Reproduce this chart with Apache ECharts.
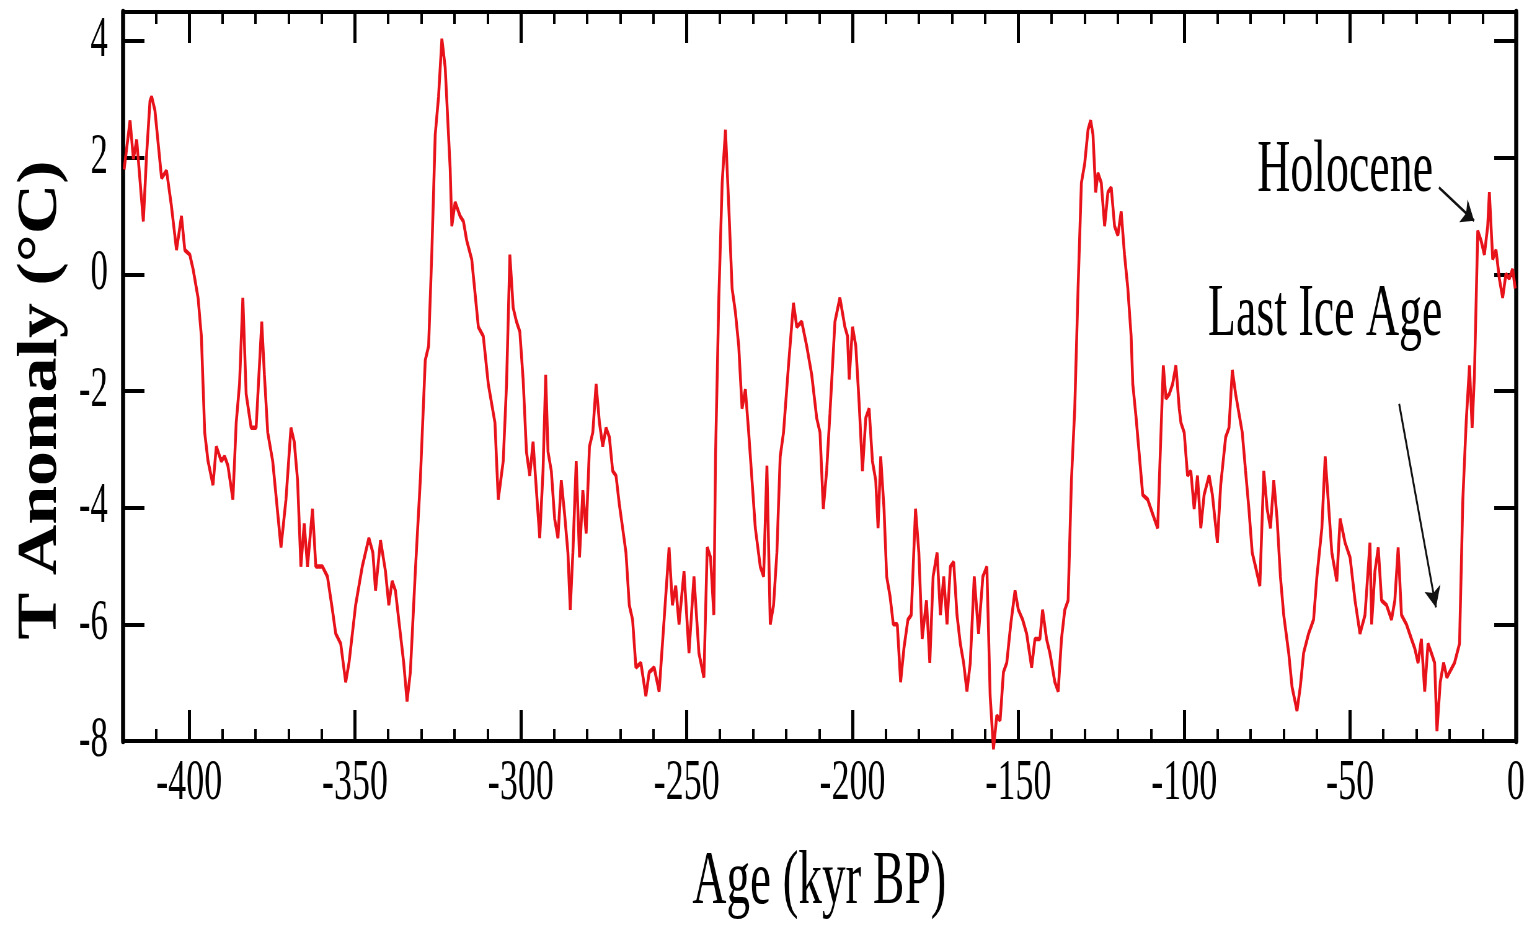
<!DOCTYPE html>
<html>
<head>
<meta charset="utf-8">
<title>T Anomaly</title>
<script src="https://cdn.jsdelivr.net/npm/echarts@6/dist/echarts.min.js"></script>
<style>
    html, body { margin: 0; padding: 0; overflow: hidden; background: #fff; }
    /* the original figure is squeezed sideways, so the chart is drawn wide and narrowed */
    #chart { width: 2469px; height: 926px; transform: scaleX(0.62); transform-origin: 0 0; }
</style>
</head>
<body>
<div id="chart"></div>
<script type="text/javascript">
// age in kyr BP (negative = before present)
var ages = [
    -419.6, -417.8, -416.8, -415.8, -413.8, -412.8, -411.8, -411.3, -410.3, -408.3,
    -406.8, -405.3, -403.8, -402.3, -401.3, -399.8, -398.8, -397.3, -396.3, -395.8,
    -395.3, -394.3, -392.8, -391.8, -390.3, -389.3, -388.3, -386.8, -385.8, -384.8,
    -383.8, -382.8, -381.3, -379.8, -378.1, -377.3, -376.3, -374.8, -372.3, -370.8,
    -369.3, -368.3, -367.3, -366.3, -365.3, -364.3, -362.8, -361.8, -359.8, -358.3,
    -356.8, -355.8, -354.3, -352.8, -351.8, -349.8, -347.8, -345.8, -344.6, -343.8,
    -342.3, -340.8, -339.8, -338.8, -337.8, -336.8, -335.3, -334.3, -333.3, -331.8,
    -330.3, -328.8, -327.8, -326.8, -325.8, -324.8, -323.8, -322.8, -321.3, -320.8,
    -319.8, -318.3, -317.3, -316.3, -314.8, -312.8, -311.3, -309.8, -307.8, -306.8,
    -305.3, -304.3, -303.3, -302.3, -301.3, -300.3, -299.3, -298.3, -297.3, -296.3,
    -295.3, -294.3, -293.3, -292.5, -291.8, -290.8, -289.8, -288.8, -287.8, -286.8,
    -285.8, -285.1, -284.3, -283.3, -282.3, -281.3, -280.3, -279.3, -278.3, -277.3,
    -276.3, -275.3, -274.3, -273.3, -272.3, -271.3, -270.3, -269.3, -268.3, -267.3,
    -266.3, -265.3, -263.8, -262.3, -261.3, -259.8, -258.3, -256.8, -255.3, -254.3,
    -253.3, -252.3, -250.8, -249.3, -247.8, -246.3, -244.8, -243.8, -242.8, -241.8,
    -241.3, -240.3, -239.3, -238.3, -237.3, -236.3, -235.3, -234.3, -233.3, -232.3,
    -231.3, -230.3, -229.3, -227.8, -226.8, -225.8, -224.8, -223.8, -222.8, -221.8,
    -220.8, -219.3, -217.8, -216.8, -215.3, -213.8, -212.3, -210.8, -209.8, -208.8,
    -207.8, -206.8, -205.3, -203.8, -202.3, -201.5, -201.0, -200.0, -199.0, -198.0,
    -197.0, -196.0, -195.0, -194.0, -193.0, -192.3, -191.5, -190.5, -189.7, -188.7,
    -187.7, -186.5, -185.5, -184.5, -183.3, -182.3, -181.0, -180.0, -179.0, -177.7,
    -176.7, -175.7, -174.5, -173.5, -172.5, -171.5, -170.5, -169.5, -168.5, -167.5,
    -166.5, -165.5, -164.5, -163.3, -162.0, -160.7, -159.5, -158.5, -157.5, -156.5,
    -155.5, -154.5, -153.5, -152.3, -151.0, -150.0, -148.7, -147.5, -146.0, -145.0,
    -143.5, -142.7, -141.5, -140.5, -139.0, -138.0, -137.0, -136.0, -135.0, -134.0,
    -133.0, -132.0, -131.0, -130.0, -129.0, -128.2, -127.5, -126.7, -126.0, -125.0,
    -124.0, -123.0, -122.0, -121.0, -120.0, -119.0, -118.0, -117.0, -116.0, -115.5,
    -114.5, -113.5, -112.5, -111.0, -109.5, -108.0, -107.0, -106.3, -105.5, -104.5,
    -103.5, -102.5, -101.5, -101.0, -100.0, -99.0, -98.0, -97.0, -96.0, -95.0,
    -94.0, -92.5, -91.5, -90.0, -89.0, -87.5, -86.5, -85.5, -84.5, -83.5,
    -82.5, -81.5, -80.5, -79.5, -78.5, -77.2, -76.0, -75.0, -74.0, -73.0,
    -72.0, -71.0, -70.0, -68.5, -67.5, -66.0, -65.0, -64.0, -62.5, -61.0,
    -60.0, -58.5, -57.5, -56.5, -55.5, -54.0, -53.0, -51.5, -50.0, -48.5,
    -47.0, -45.5, -44.0, -43.5, -42.5, -41.5, -40.5, -39.0, -37.5, -36.5,
    -35.5, -34.5, -33.0, -31.5, -30.5, -29.5, -28.5, -27.5, -26.5, -25.5,
    -24.5, -23.8, -22.8, -21.8, -20.8, -20.0, -18.5, -17.0, -16.0, -15.0,
    -14.0, -13.2, -12.5, -11.5, -10.5, -9.5, -8.5, -8.0, -7.0, -6.0,
    -5.0, -4.0, -3.0, -2.0, -1.0, -0.2
];

// temperature anomaly in °C
var temps = [
    1.8, 2.64, 1.98, 2.31, 0.91, 2.07, 2.97, 3.05, 2.81, 1.65,
    1.78, 1.16, 0.42, 1.0, 0.42, 0.34, 0.09, -0.4, -1.06, -1.88,
    -2.71, -3.2, -3.61, -2.95, -3.2, -3.12, -3.28, -3.86, -2.54, -1.88,
    -0.4, -2.05, -2.63, -2.63, -0.81, -1.72, -2.71, -3.2, -4.68, -3.86,
    -2.63, -2.87, -3.53, -5.01, -4.27, -5.01, -4.02, -5.01, -5.01, -5.18,
    -5.75, -6.16, -6.33, -6.99, -6.66, -5.67, -5.01, -4.52, -4.77, -5.42,
    -4.56, -5.09, -5.67, -5.26, -5.42, -5.92, -6.66, -7.32, -6.82, -5.09,
    -3.53, -1.47, -1.23, 0.42, 2.4, 3.05, 4.04, 3.55, 1.82, 0.83,
    1.24, 1.0, 0.91, 0.58, 0.26, -0.9, -1.06, -1.88, -2.54, -3.86,
    -3.2, -1.88, 0.34, -0.57, -0.81, -0.98, -1.8, -3.04, -3.45, -2.87,
    -3.7, -4.52, -3.37, -1.72, -3.04, -3.37, -4.19, -4.52, -3.53, -4.11,
    -4.77, -5.75, -4.77, -3.2, -4.85, -3.7, -4.44, -2.95, -2.71, -1.88,
    -2.54, -2.95, -2.63, -2.79, -3.37, -3.45, -3.94, -4.35, -4.77, -5.67,
    -5.92, -6.74, -6.66, -7.23, -6.82, -6.74, -7.15, -5.92, -4.68, -5.67,
    -5.34, -6.0, -5.09, -6.49, -5.18, -6.49, -6.91, -4.68, -4.85, -5.84,
    -3.12, -0.4, 1.57, 2.48, 1.16, -0.24, -0.65, -1.23, -2.3, -1.97,
    -2.71, -3.53, -4.35, -5.01, -5.18, -3.28, -6.0, -5.67, -4.77, -3.12,
    -2.71, -1.56, -0.49, -0.9, -0.81, -1.23, -1.72, -2.46, -2.71, -4.02,
    -3.37, -2.38, -0.81, -0.4, -0.9, -1.06, -1.8, -0.9, -1.23, -2.21,
    -3.37, -2.46, -2.3, -3.2, -3.53, -4.35, -3.12, -4.02, -5.18, -5.51,
    -6.0, -6.0, -6.99, -6.41, -5.92, -5.84, -4.02, -4.77, -6.25, -5.59,
    -6.66, -5.18, -4.77, -5.84, -5.18, -6.0, -5.01, -4.93, -5.84, -6.33,
    -6.66, -7.15, -6.66, -5.18, -6.16, -5.18, -5.01, -7.23, -8.14, -7.56,
    -7.65, -6.82, -6.66, -6.0, -5.42, -5.75, -5.92, -6.16, -6.74, -6.25,
    -6.25, -5.75, -6.25, -6.49, -6.99, -7.15, -6.25, -5.75, -5.59, -3.53,
    -2.3, -0.24, 1.57, 1.9, 2.48, 2.64, 2.4, 1.41, 1.74, 1.57,
    0.83, 1.41, 1.49, 0.83, 0.67, 1.08, 0.34, -0.24, -1.06, -1.88,
    -2.46, -3.12, -3.78, -3.86, -4.11, -4.35, -2.71, -1.56, -2.13, -2.05,
    -1.88, -1.56, -2.3, -2.54, -2.71, -3.45, -3.37, -4.02, -3.45, -4.35,
    -3.78, -3.45, -3.78, -4.6, -3.61, -2.79, -2.63, -1.64, -2.05, -2.38,
    -2.71, -3.37, -4.02, -4.77, -5.01, -5.34, -3.37, -4.02, -4.35, -3.53,
    -4.19, -5.18, -5.84, -6.49, -7.07, -7.48, -7.07, -6.49, -6.16, -5.92,
    -5.18, -4.35, -3.12, -3.94, -4.77, -5.26, -4.19, -4.6, -4.85, -5.59,
    -6.16, -5.84, -4.6, -6.0, -5.09, -4.68, -5.59, -5.67, -5.92, -5.59,
    -4.68, -5.84, -6.0, -6.25, -6.41, -6.66, -6.25, -7.15, -6.33, -6.49,
    -6.66, -7.83, -6.99, -6.66, -6.91, -6.82, -6.66, -6.33, -3.86, -2.54,
    -1.56, -2.63, -1.72, 0.75, 0.58, 0.34, 0.83, 1.41, 0.26, 0.42,
    -0.07, -0.4, 0.01, -0.07, 0.09, -0.24
];

var xMajorTicks = [-400, -350, -300, -250, -200, -150, -100, -50, 0];
var xMinorTicks = [-410, -390, -380, -370, -360, -340, -330, -320, -310, -290, -280, -270, -260,
    -240, -230, -220, -210, -190, -180, -170, -160, -140, -130, -120, -110, -90, -80, -70, -60,
    -40, -30, -20, -10];
var yTicks = [-8, -6, -4, -2, 0, 2, 4];

var serif = "'Liberation Serif', 'Times New Roman', serif";

var seriesData = ages.map(function (a, i) { return [a, temps[i]]; });

function xAxisOf(position, ticks, tickLen, tickWidth, withLine, withLabel) {
    var axis = {
        type: 'value',
        position: position,
        min: -420,
        max: 0,
        splitLine: { show: false },
        axisLine: { show: withLine, onZero: false, lineStyle: { color: '#000', width: 4 } },
        axisTick: { show: true, inside: true, length: tickLen, customValues: ticks, lineStyle: { color: '#000', width: tickWidth } },
        axisLabel: { show: withLabel, customValues: ticks, margin: 14, color: '#000', fontFamily: serif, fontSize: 58 }
    };
    return axis;
}

function yAxisOf(position, withLabel) {
    return {
        type: 'value',
        position: position,
        min: -8,
        max: 4.5,
        splitLine: { show: false },
        axisLine: { show: true, onZero: false, lineStyle: { color: '#000', width: 6.5 } },
        axisTick: { show: true, inside: true, length: 35, customValues: yTicks, lineStyle: { color: '#000', width: 4 } },
        axisLabel: { show: withLabel, customValues: yTicks, margin: 24, color: '#000', fontFamily: serif, fontSize: 56 }
    };
}

var bottomAxis = xAxisOf('bottom', xMajorTicks, 31, 5, true, true);
bottomAxis.name = 'Age (kyr BP)';
bottomAxis.nameLocation = 'middle';
bottomAxis.nameGap = 104;
bottomAxis.nameTextStyle = { color: '#000', fontFamily: serif, fontSize: 76 };

var myChart = echarts.init(document.getElementById('chart'));

myChart.setOption({
    animation: false,
    backgroundColor: '#fff',
    grid: { left: 198, right: 24, top: 12, bottom: 179 },
    xAxis: [
        bottomAxis,
        xAxisOf('bottom', xMinorTicks, 12, 4, false, false),
        xAxisOf('top', xMajorTicks, 31, 5, true, false),
        xAxisOf('top', xMinorTicks, 12, 4, false, false)
    ],
    yAxis: [yAxisOf('left', true), yAxisOf('right', false)],
    graphic: [{
        type: 'text',
        x: 66,
        y: 400,
        rotation: Math.PI / 2,
        scaleY: 1.3,
        style: {
            text: 'T Anomaly (°C)',
            font: 'bold 70px ' + serif,
            fill: '#000',
            align: 'center',
            verticalAlign: 'middle'
        }
    }],
    series: [{
        name: 'T Anomaly',
        type: 'line',
        xAxisIndex: 0,
        yAxisIndex: 0,
        data: seriesData,
        symbol: 'none',
        clip: false,
        lineStyle: { color: '#e8121a', width: 4.5 },
        emphasis: { disabled: true },
        markPoint: {
            silent: true,
            symbol: 'circle',
            symbolSize: 1,
            itemStyle: { color: 'rgba(0,0,0,0)' },
            label: { show: true, position: 'inside', color: '#000', fontFamily: serif, fontSize: 74, formatter: '{b}' },
            data: [
                { name: 'Holocene', coord: [-51.5, 1.76] },
                { name: 'Last Ice Age', coord: [-57.5, -0.71] }
            ]
        },
        markLine: {
            silent: true,
            symbol: ['none', 'arrow'],
            symbolSize: 20,
            label: { show: false },
            lineStyle: { color: '#111', width: 3, type: 'solid' },
            data: [
                [{ coord: [-23.2, 1.49] }, { coord: [-12.6, 0.92] }],
                [{ coord: [-35.2, -2.22] }, { coord: [-24.1, -5.71] }]
            ]
        }
    }]
});
</script>
</body>
</html>
